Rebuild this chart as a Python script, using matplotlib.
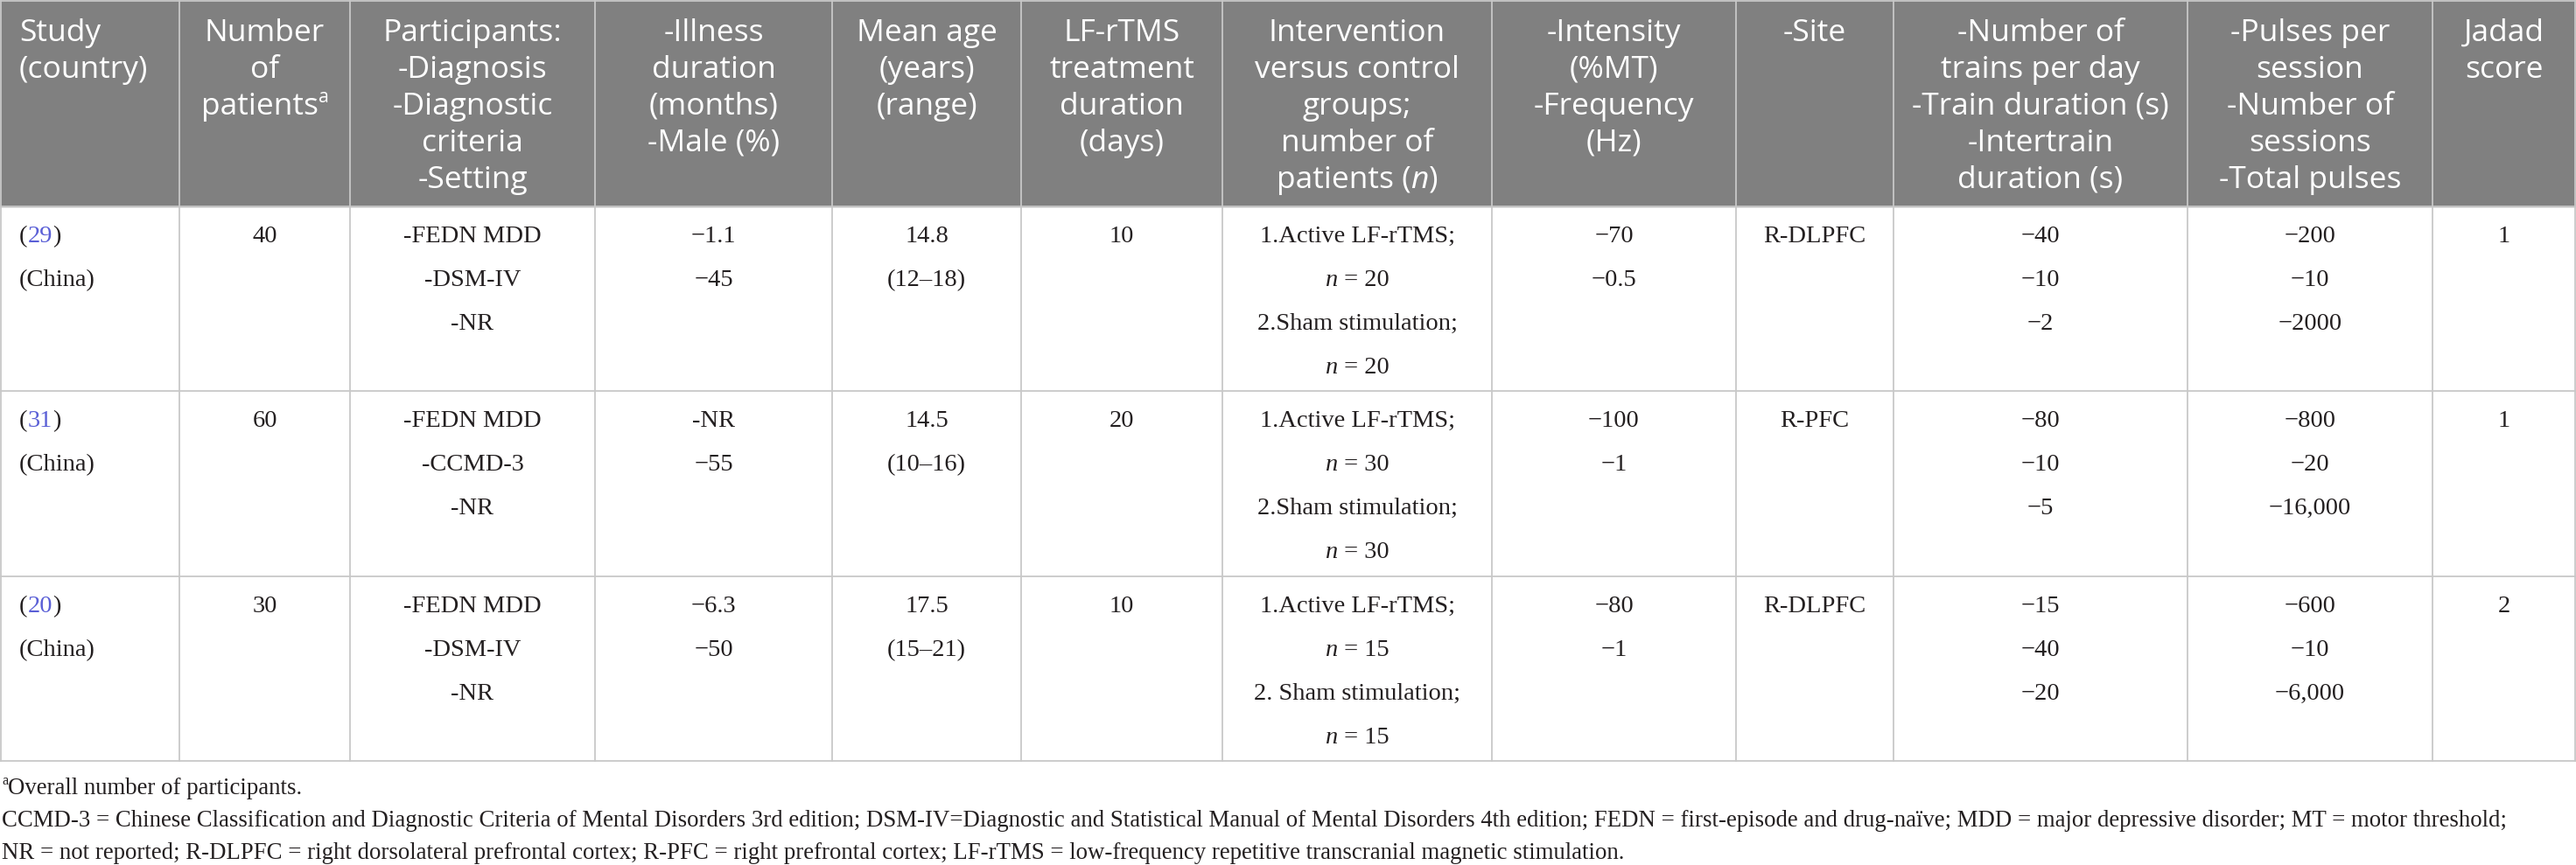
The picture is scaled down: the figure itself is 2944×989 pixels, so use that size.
import matplotlib
matplotlib.use("Agg")
import matplotlib.pyplot as plt

# Table content
headers = [
    ["Study", "(country)"],
    ["Number", "of", "patients^a"],
    ["Participants:", "-Diagnosis", "-Diagnostic", "criteria", "-Setting"],
    ["-Illness", "duration", "(months)", "-Male (%)"],
    ["Mean age", "(years)", "(range)"],
    ["LF-rTMS", "treatment", "duration", "(days)"],
    ["Intervention", "versus control", "groups;", "number of", "patients (n)"],
    ["-Intensity", "(%MT)", "-Frequency", "(Hz)"],
    ["-Site"],
    ["-Number of", "trains per day", "-Train duration (s)", "-Intertrain", "duration (s)"],
    ["-Pulses per", "session", "-Number of", "sessions", "-Total pulses"],
    ["Jadad", "score"],
]

refs = ["29", "31", "20"]
countries = ["(China)", "(China)", "(China)"]
n_patients = ["40", "60", "30"]
participants = [["-FEDN MDD", "-DSM-IV", "-NR"],
                ["-FEDN MDD", "-CCMD-3", "-NR"],
                ["-FEDN MDD", "-DSM-IV", "-NR"]]
illness_male = [["\u22121.1", "\u221245"],
                ["-NR", "\u221255"],
                ["\u22126.3", "\u221250"]]
mean_age = [["14.8", "(12\u201318)"],
            ["14.5", "(10\u201316)"],
            ["17.5", "(15\u201321)"]]
treat_days = ["10", "20", "10"]
active_n = ["20", "30", "15"]
sham_n = ["20", "30", "15"]
sham_label = ["2.Sham stimulation;", "2.Sham stimulation;", "2. Sham stimulation;"]
intensity_freq = [["\u221270", "\u22120.5"],
                  ["\u2212100", "\u22121"],
                  ["\u221280", "\u22121"]]
sites = ["R-DLPFC", "R-PFC", "R-DLPFC"]
trains = [["\u221240", "\u221210", "\u22122"],
          ["\u221280", "\u221210", "\u22125"],
          ["\u221215", "\u221240", "\u221220"]]
pulses = [["\u2212200", "\u221210", "\u22122000"],
          ["\u2212800", "\u221220", "\u221216,000"],
          ["\u2212600", "\u221210", "\u22126,000"]]
jadad = ["1", "1", "2"]

footnotes = [
    "Overall number of participants.",
    "CCMD-3 = Chinese Classification and Diagnostic Criteria of Mental Disorders 3rd edition; "
    "DSM-IV=Diagnostic and Statistical Manual of Mental Disorders 4th edition; "
    "FEDN = first-episode and drug-na\u00efve; MDD = major depressive disorder; "
    "MT = motor threshold;",
    "NR = not reported; R-DLPFC = right dorsolateral prefrontal cortex; "
    "R-PFC = right prefrontal cortex; LF-rTMS = low-frequency repetitive "
    "transcranial magnetic stimulation.",
]

# Layout (pixels)
W, H = 2944, 989
col_edges = [0, 205, 400, 680, 951, 1167, 1397, 1705, 1984, 2164, 2500, 2780, 2944]
row_edges = [236, 447, 659, 870]
header_bg = "#808080"
grid_col = "#c8c8c8"
ink = "#231f20"
link = "#5a5fd6"

sans = ["Open Sans", "DejaVu Sans"]
serif = ["Liberation Serif", "DejaVu Serif"]
HEAD = dict(family=sans, fontsize=25.5, color="white")
BODY = dict(family=serif, fontsize=20.5, color=ink)
FOOT = dict(family=serif, fontsize=19.3, color=ink)

fig = plt.figure(figsize=(W / 100, H / 100), dpi=100)
ax = fig.add_axes([0, 0, 1, 1])
ax.set_xlim(0, W)
ax.set_ylim(H, 0)
ax.axis("off")
renderer = fig.canvas.get_renderer()


def draw_runs(x, y, runs, ha="center"):
    """Draw a line made of differently styled pieces, baseline at y."""
    pieces = []
    for txt, kw in runs:
        kw = dict(kw)
        dy = kw.pop("dy", 0)
        t = ax.text(0, 0, txt, **kw)
        pieces.append((txt, kw, dy, t.get_window_extent(renderer).width))
        t.remove()
    total = sum(p[3] for p in pieces)
    x0 = x - total / 2 if ha == "center" else x
    for txt, kw, dy, w in pieces:
        ax.text(x0, y + dy, txt, ha="left", va="baseline", **kw)
        x0 += w


def sup(style):
    s = dict(style)
    s["fontsize"] = style["fontsize"] * 0.6
    s["dy"] = -style["fontsize"] * 0.55
    return s


def ital(style):
    s = dict(style)
    s["style"] = "italic"
    return s


# header background and grid
ax.add_patch(plt.Rectangle((0, 0), W, row_edges[0], color=header_bg, zorder=0))
for yy in [1] + row_edges:
    ax.plot([0, W], [yy, yy], color=grid_col, lw=1.3, zorder=1)
for xx in col_edges:
    xx = min(max(xx, 1), W - 1)
    ax.plot([xx, xx], [0, row_edges[-1]], color=grid_col, lw=1.3, zorder=1)

centers = [(a + b) / 2 for a, b in zip(col_edges[:-1], col_edges[1:])]

# header text
for c, lines in enumerate(headers):
    for i, line in enumerate(lines):
        y = 47 + 42 * i
        if line.endswith("^a"):
            runs = [(line[:-2], HEAD), ("a", sup(HEAD))]
        elif line.endswith("(n)"):
            runs = [(line[:-2], HEAD), ("n", ital(HEAD)), (")", HEAD)]
        else:
            runs = [(line, HEAD)]
        if c == 0:
            draw_runs(22, y, runs, ha="left")
        else:
            draw_runs(centers[c], y, runs)

# body rows
for r in range(3):
    base = row_edges[r] + 41
    cells = [
        None,
        [n_patients[r]],
        participants[r],
        illness_male[r],
        mean_age[r],
        [treat_days[r]],
        None,
        intensity_freq[r],
        [sites[r]],
        trains[r],
        pulses[r],
        [jadad[r]],
    ]
    # study column with coloured reference number
    draw_runs(22, base, [("(", BODY), (refs[r], dict(BODY, color=link)), (")", BODY)], ha="left")
    draw_runs(22, base + 50, [(countries[r], BODY)], ha="left")
    # intervention column
    interv = [
        [("1.Active LF-rTMS;", BODY)],
        [("n", ital(BODY)), (" = " + active_n[r], BODY)],
        [(sham_label[r], BODY)],
        [("n", ital(BODY)), (" = " + sham_n[r], BODY)],
    ]
    for i, runs in enumerate(interv):
        draw_runs(centers[6], base + 50 * i, runs)
    for c, lines in enumerate(cells):
        if lines is None:
            continue
        for i, line in enumerate(lines):
            draw_runs(centers[c], base + 50 * i, [(line, BODY)])

# footnotes
draw_runs(2, 908, [("a", sup(FOOT)), (footnotes[0], FOOT)], ha="left")
draw_runs(2, 945, [(footnotes[1], FOOT)], ha="left")
draw_runs(2, 982, [(footnotes[2], FOOT)], ha="left")

fig.savefig("out.png", dpi=100)
